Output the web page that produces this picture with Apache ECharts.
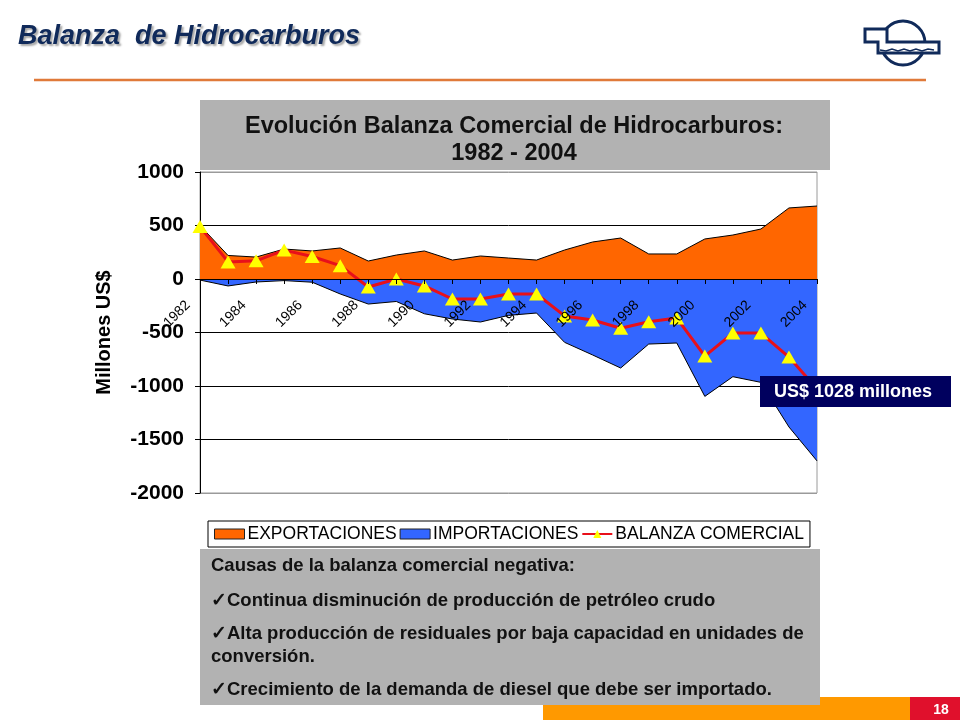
<!DOCTYPE html>
<html>
<head>
<meta charset="utf-8">
<script src="https://cdn.jsdelivr.net/npm/echarts@6/dist/echarts.min.js"></script>
<style>
html,body{margin:0;padding:0;background:#fff;}
#chart{width:960px;height:720px;}
</style>
</head>
<body>
<div id="chart"></div>
<script>
var years = ['1982','1983','1984','1985','1986','1987','1988','1989','1990','1991','1992','1993','1994','1995','1996','1997','1998','1999','2000','2001','2002','2003','2004'];
var exportaciones = [500,220,205,280,262,290,168,224,262,177,215,196,177,271,346,383,234,234,374,411,467,664,682];
var importaciones = [-10,-65,-28,-15,-30,-140,-234,-210,-325,-374,-402,-340,-318,-592,-710,-832,-608,-598,-1097,-913,-966,-1383,-1700];
var balanza = [490,160,170,270,210,125,-75,0,-65,-187,-187,-140,-140,-345,-383,-460,-400,-365,-720,-505,-505,-730,-1028];
var seriesNames = ['EXPORTACIONES','IMPORTACIONES','BALANZA COMERCIAL'];
var yTicks = {min:-2000, max:1000, interval:500};

var FONT = "'Liberation Sans', Arial, sans-serif";
var GRID = {left:200, top:172, width:617, height:321};
// place the category axis on the value-axis zero line
var zeroOffset = -GRID.height * (0 - yTicks.min) / (yTicks.max - yTicks.min);

var chart = echarts.init(document.getElementById('chart'), null, {renderer:'canvas'});

var option = {
  backgroundColor:'#ffffff',
  animation:false,
  textStyle:{fontFamily:FONT},
  grid:{left:GRID.left, top:GRID.top, width:GRID.width, height:GRID.height, show:true, borderColor:'#9a9a9a', borderWidth:1, backgroundColor:'#fff'},
  legend:{
    left:208, top:521,
    data:[
      {name:seriesNames[0], icon:'rect', itemStyle:{borderColor:'#222', borderWidth:1}},
      {name:seriesNames[1], icon:'rect', itemStyle:{borderColor:'#222', borderWidth:1}},
      {name:seriesNames[2]}
    ],
    itemWidth:30, itemHeight:10, itemGap:3,
    padding:[4,6,4,6],
    borderColor:'#000', borderWidth:1, backgroundColor:'#fff',
    textStyle:{fontFamily:FONT, fontSize:17.5, color:'#000', padding:[0,0,0,-2]},
    selectedMode:false
  },
  xAxis:{
    type:'category', data:years, boundaryGap:false, z:10,
    position:'bottom', offset:zeroOffset,
    axisLine:{onZero:false, lineStyle:{color:'#000', width:1}},
    axisTick:{show:true, interval:0, length:5, lineStyle:{color:'#000'}},
    axisLabel:{interval:1, rotate:45, margin:12, padding:[0,17,0,0], fontSize:14, color:'#000', fontFamily:FONT},
    splitLine:{show:false}
  },
  yAxis:{
    type:'value', min:yTicks.min, max:yTicks.max, interval:yTicks.interval,
    name:'Millones US$', nameLocation:'middle', nameGap:86,
    nameTextStyle:{fontSize:20, fontWeight:'bold', color:'#000', fontFamily:FONT},
    axisLine:{show:true, lineStyle:{color:'#000', width:1}},
    axisTick:{show:true, length:5, lineStyle:{color:'#000'}},
    axisLabel:{fontSize:21, fontWeight:'bold', color:'#000', margin:16, fontFamily:FONT, formatter:function(v){return String(v);}},
    splitLine:{show:true, lineStyle:{color:['#9a9a9a','#000','#000','#000','#000','#000','#9a9a9a'], width:1}}
  },
  series:[
    {name:seriesNames[0], type:'line', data:exportaciones, color:'#ff6600', symbol:'none', z:2,
     lineStyle:{color:'#000', width:1}, areaStyle:{color:'#ff6600', opacity:1}},
    {name:seriesNames[1], type:'line', data:importaciones, color:'#3366ff', symbol:'none', z:3,
     lineStyle:{color:'#000', width:1}, areaStyle:{color:'#3366ff', opacity:1}},
    {name:seriesNames[2], type:'line', data:balanza, color:'#e8101a', z:4,
     symbol:'triangle', symbolSize:[15,13],
     itemStyle:{color:'#ffff00', borderWidth:0},
     lineStyle:{color:'#e8101a', width:3}}
  ],
  graphic:[
    {type:'text', left:18, top:23, z:50, style:{text:'Balanza  de Hidrocarburos', font:"italic bold 27px "+FONT, fill:'#102a5a', textShadowColor:'rgba(0,0,0,0.35)', textShadowOffsetX:2, textShadowOffsetY:2, textShadowBlur:2}},
    {type:'line', z:50, shape:{x1:34, y1:80, x2:926, y2:80}, style:{stroke:'#e07a3a', lineWidth:2.5}},
    {type:'circle', z:50, shape:{cx:903, cy:43, r:22}, style:{fill:'none', stroke:'#102a5a', lineWidth:3}},
    {type:'polygon', z:51, shape:{points:[[865,29],[887,29],[887,42],[939,42],[939,53],[878,53],[878,42],[865,42]]}, style:{fill:'#fff', stroke:'#102a5a', lineWidth:3}},
    {type:'polyline', z:52, shape:{points:[[880,50],[886,51],[892,49],[898,51],[904,49],[910,51],[916,49],[922,51],[928,49],[934,50]]}, style:{fill:'none', stroke:'#102a5a', lineWidth:1.5}},
    {type:'rect', z:50, shape:{x:200, y:100, width:630, height:70}, style:{fill:'#b2b2b2'}},
    {type:'text', z:51, x:514, y:127, style:{text:'Evolución Balanza Comercial de Hidrocarburos:', font:"bold 23.5px "+FONT, fill:'#111', align:'center', verticalAlign:'middle'}},
    {type:'text', z:51, x:514, y:154, style:{text:'1982 - 2004', font:"bold 23.5px "+FONT, fill:'#111', align:'center', verticalAlign:'middle'}},
    {type:'rect', z:100, shape:{x:760, y:376, width:191, height:31}, style:{fill:'#00005e'}},
    {type:'text', z:101, x:853, y:392, style:{text:'US$ 1028 millones', font:"bold 18px "+FONT, fill:'#fff', align:'center', verticalAlign:'middle'}},
    {type:'rect', z:50, shape:{x:543, y:697, width:367, height:23}, style:{fill:'#ff9900'}},
    {type:'rect', z:50, shape:{x:910, y:697, width:50, height:23}, style:{fill:'#e0102c'}},
    {type:'text', z:51, x:941, y:710, style:{text:'18', font:"bold 14px "+FONT, fill:'#fff', align:'center', verticalAlign:'middle'}},
    {type:'rect', z:52, shape:{x:200, y:549, width:620, height:156}, style:{fill:'#b2b2b2'}},
    {type:'text', z:53, x:211, y:566, style:{text:'Causas de la balanza comercial negativa:', font:"bold 18.5px "+FONT, fill:'#111', verticalAlign:'middle'}},
    {type:'text', z:53, x:211, y:601, style:{text:'✓Continua disminución de producción de petróleo crudo', font:"bold 18.5px "+FONT, fill:'#111', verticalAlign:'middle'}},
    {type:'text', z:53, x:211, y:634, style:{text:'✓Alta producción de residuales por baja capacidad en unidades de', font:"bold 18.5px "+FONT, fill:'#111', verticalAlign:'middle'}},
    {type:'text', z:53, x:211, y:657, style:{text:'conversión.', font:"bold 18.5px "+FONT, fill:'#111', verticalAlign:'middle'}},
    {type:'text', z:53, x:211, y:690, style:{text:'✓Crecimiento de la demanda de diesel que debe ser importado.', font:"bold 18.5px "+FONT, fill:'#111', verticalAlign:'middle'}}
  ]
};
chart.setOption(option);
</script>
</body>
</html>
